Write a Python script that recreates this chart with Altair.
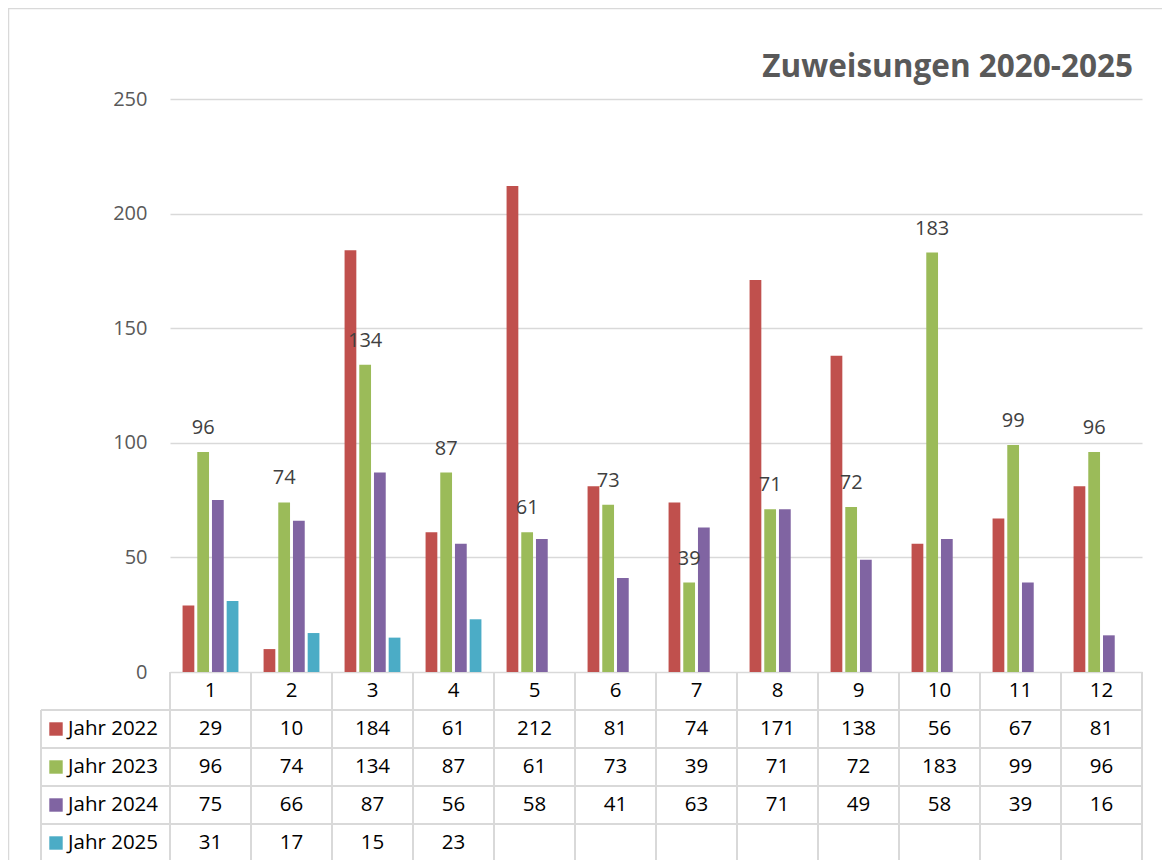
import altair as alt
import pandas as pd

# ---- data ----
months = list(range(1, 13))
series = ["Jahr 2022", "Jahr 2023", "Jahr 2024", "Jahr 2025"]
jahr_2022 = [29, 10, 184, 61, 212, 81, 74, 171, 138, 56, 67, 81]
jahr_2023 = [96, 74, 134, 87, 61, 73, 39, 71, 72, 183, 99, 96]
jahr_2024 = [75, 66, 87, 56, 58, 41, 63, 71, 49, 58, 39, 16]
jahr_2025 = [31, 17, 15, 23, None, None, None, None, None, None, None, None]
colors = ["#C0504D", "#9BBB59", "#8064A2", "#4BACC6"]
y_ticks = [0, 50, 100, 150, 200, 250]
title_text = "Zuweisungen 2020-2025"
labelled_series = "Jahr 2023"

FONT = "Open Sans"
W, H = 972, 573
TABLE_H = 190
GRID = "#d9d9d9"

rows = []
for i, (name, vals) in enumerate(zip(series, [jahr_2022, jahr_2023, jahr_2024, jahr_2025])):
    for m, v in zip(months, vals):
        if v is None:
            continue
        rows.append(dict(month=m, series=name, value=v, row=i + 1, label=str(v)))
df = pd.DataFrame(rows)

header_df = pd.DataFrame(dict(month=months, row=[0] * len(months), label=[str(m) for m in months]))
table_df = pd.concat([df[["month", "row", "label"]], header_df], ignore_index=True)
legend_df = pd.DataFrame(dict(series=series, row=list(range(1, len(series) + 1))))
month_df = pd.DataFrame(dict(month=months))
one = pd.DataFrame(dict(a=[0]))

color_scale = alt.Scale(domain=series, range=colors)
x_scale = alt.Scale(domain=months, paddingInner=0, paddingOuter=0)
xo_scale = alt.Scale(domain=series, paddingInner=0.2, paddingOuter=0.855)
row_scale = alt.Scale(domain=[0, 5], range=[H, H + TABLE_H], nice=False, zero=False)

# ---- top: bars ----
border = alt.Chart(one).mark_rect(fillOpacity=0, stroke=GRID, strokeWidth=1.5).encode(
    x=alt.value(-161.5), y=alt.value(-90.5), x2=alt.value(1300), y2=alt.value(1300)
)

bars = alt.Chart(df).mark_bar().encode(
    x=alt.X("month:O", scale=x_scale, axis=None),
    xOffset=alt.XOffset("series:N", scale=xo_scale),
    y=alt.Y(
        "value:Q",
        scale=alt.Scale(domain=[0, 250], nice=False),
        axis=alt.Axis(
            values=y_ticks, title=None, grid=True, gridColor=GRID, gridWidth=1.5,
            domain=False, ticks=False, tickSize=0, labelPadding=23,
            labelFont=FONT, labelFontSize=20, labelColor="#595959",
        ),
    ),
    color=alt.Color("series:N", scale=color_scale, legend=None),
)

labels = alt.Chart(df).transform_filter(
    alt.datum.series == labelled_series
).mark_text(
    baseline="alphabetic", dy=-18, font=FONT, fontSize=20, color="#404040"
).encode(
    x=alt.X("month:O", axis=None),
    xOffset=alt.XOffset("series:N"),
    y=alt.Y("value:Q"),
    text="label:N",
)

title_mark = alt.Chart(pd.DataFrame(dict(t=[title_text]))).mark_text(
    align="right", baseline="alphabetic", font=FONT, fontSize=31.5,
    fontWeight="bold", color="#595959"
).encode(x=alt.value(963), y=alt.value(-22), text="t:N")

top = alt.layer(border, bars, labels, title_mark)

# ---- bottom: data table ----
rule_style = dict(color=GRID, strokeWidth=2)

vlines_left = alt.Chart(month_df).mark_rule(**rule_style).encode(
    x=alt.X("month:O", bandPosition=0, axis=None),
    y=alt.Y(datum=0, type="quantitative", scale=row_scale, axis=None),
    y2=alt.Y2(datum=5),
)
vlines_right = alt.Chart(month_df).mark_rule(**rule_style).encode(
    x=alt.X("month:O", bandPosition=1, axis=None),
    y=alt.Y(datum=0, type="quantitative", scale=row_scale, axis=None),
    y2=alt.Y2(datum=5),
)
vline_legend = alt.Chart(one).mark_rule(**rule_style).encode(
    x=alt.value(-129),
    y=alt.Y(datum=1, type="quantitative", scale=row_scale, axis=None),
    y2=alt.Y2(datum=5),
)
hlines = alt.Chart(legend_df).mark_rule(**rule_style).encode(
    x=alt.value(-129), x2=alt.value(W),
    y=alt.Y("row:Q", scale=row_scale, axis=None),
)

table_text = alt.Chart(table_df).transform_calculate(yc="datum.row + 0.5").mark_text(
    font=FONT, fontSize=20.5, color="#000000", baseline="middle"
).encode(
    x=alt.X("month:O", axis=None),
    y=alt.Y("yc:Q", scale=row_scale, axis=None),
    text="label:N",
)

legend_sq = alt.Chart(legend_df).transform_calculate(yc="datum.row + 0.5").mark_square(
    size=180, opacity=1
).encode(
    x=alt.value(-114),
    y=alt.Y("yc:Q", scale=row_scale, axis=None),
    color=alt.Color("series:N", legend=None),
)
legend_txt = alt.Chart(legend_df).transform_calculate(yc="datum.row + 0.5").mark_text(
    align="left", baseline="middle", font=FONT, fontSize=20.5, color="#000000"
).encode(
    x=alt.value(-102),
    y=alt.Y("yc:Q", scale=row_scale, axis=None),
    text="series:N",
)

table = alt.layer(vlines_left, vlines_right, vline_legend, hlines, table_text, legend_sq, legend_txt)

chart = alt.layer(top, table).resolve_scale(y="independent").properties(
    width=W,
    height=H,
    autosize=alt.AutoSizeParams(type="none"),
    padding={"left": 162, "top": 91, "right": 20, "bottom": 188},
    background="white",
).configure_view(stroke=None)

chart.save("out.html", embed_options={"renderer": "svg", "actions": False})
